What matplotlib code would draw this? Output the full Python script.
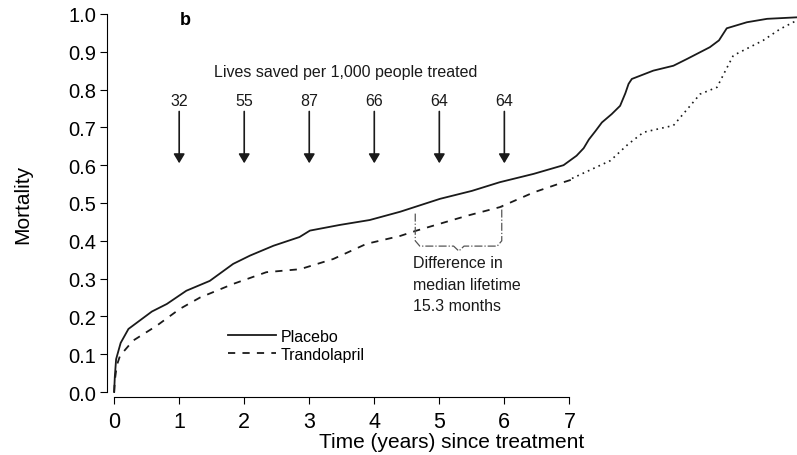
import matplotlib
matplotlib.use("Agg")
import matplotlib.pyplot as plt

plt.rcParams['font.family'] = ['Liberation Sans', 'DejaVu Sans']

# Kaplan-Meier style curves
placebo_t = [0.0, 0.01, 0.03, 0.1, 0.22, 0.4, 0.58, 0.81, 1.11, 1.47, 1.83, 2.09, 2.45,
             2.85, 3.01, 3.47, 3.93, 4.40, 5.01, 5.5, 5.93, 6.45, 6.91, 7.11, 7.22,
             7.30, 7.40, 7.50, 7.65, 7.78, 7.86, 7.91, 7.96, 8.29, 8.60, 8.81, 9.16,
             9.30, 9.42, 9.73, 10.04, 10.5]
placebo_m = [0.0, 0.04, 0.087, 0.13, 0.167, 0.19, 0.213, 0.233, 0.268, 0.294, 0.339,
             0.361, 0.387, 0.41, 0.427, 0.442, 0.455, 0.477, 0.511, 0.532, 0.555,
             0.577, 0.60, 0.625, 0.645, 0.668, 0.69, 0.713, 0.735, 0.757, 0.79,
             0.815, 0.828, 0.85, 0.863, 0.881, 0.912, 0.93, 0.962, 0.978, 0.987, 0.991]

trando_t = [0.0, 0.01, 0.04, 0.09, 0.29, 0.65, 1.01, 1.32, 1.83, 2.34, 2.86, 3.37,
            3.88, 4.40, 4.65, 5.42, 5.93, 6.45, 6.91, 7.04]
trando_m = [0.0, 0.03, 0.07, 0.096, 0.136, 0.175, 0.22, 0.25, 0.286, 0.317, 0.325,
            0.352, 0.392, 0.413, 0.427, 0.466, 0.489, 0.528, 0.555, 0.562]

# projected part (dotted)
proj_t = [7.04, 7.63, 7.90, 8.14, 8.60, 9.01, 9.27, 9.40, 9.52, 9.98, 10.24, 10.5]
proj_m = [0.565, 0.612, 0.655, 0.687, 0.705, 0.788, 0.806, 0.85, 0.89, 0.93, 0.96, 0.983]

arrow_years = [1, 2, 3, 4, 5, 6]
lives_saved = [32, 55, 87, 66, 64, 64]

fig = plt.figure(figsize=(7.97, 4.56), dpi=100)
ax = fig.add_axes([107 / 797, 58 / 456, 690 / 797, 388 / 456])

ax.plot(placebo_t, placebo_m, color='#1a1a1a', lw=1.3, label='Placebo')
ax.plot(trando_t, trando_m, color='#1a1a1a', lw=1.3, ls=(0, (4, 4)), label='Trandolapril')
ax.plot(proj_t, proj_m, color='#1a1a1a', lw=1.2, ls=(0, (1, 2.5)))

# arrows with lives saved
for yr, n in zip(arrow_years, lives_saved):
    ax.annotate('', xy=(yr, 0.605), xytext=(yr, 0.742),
                arrowprops=dict(arrowstyle='-|>,head_length=0.55,head_width=0.33',
                                color='#1a1a1a', lw=1.2, shrinkA=0, shrinkB=0))
    ax.text(yr, 0.772, str(n), ha='center', va='center', fontsize=11.5, color='#1a1a1a')
ax.text(3.56, 0.849, 'Lives saved per 1,000 people treated', ha='center', va='center',
        fontsize=11.5, color='#1a1a1a')
ax.text(1.1, 0.985, 'b', ha='center', va='center', fontsize=13, fontweight='bold')

# bracket for median lifetime difference
bx = [4.63, 4.63, 4.70, 5.22, 5.30, 5.38, 5.89, 5.96, 5.96]
by = [0.472, 0.40, 0.386, 0.386, 0.373, 0.386, 0.386, 0.40, 0.49]
ax.plot(bx, by, color='#555555', lw=0.9, ls='-.')
ax.text(4.59, 0.362, 'Difference in\nmedian lifetime\n15.3 months', ha='left', va='top',
        fontsize=11.5, color='#1a1a1a', linespacing=1.55)

ax.legend(loc='lower left', bbox_to_anchor=(0.164, 0.07), frameon=False, fontsize=11.5,
          handlelength=3.0, handletextpad=0.3, labelspacing=0.2, borderpad=0)

ax.set_xlim(-0.11, 10.5)
ax.set_ylim(-0.013, 1.013)
ax.set_xticks(range(0, 8))
ax.set_yticks([i / 10 for i in range(11)])
ax.set_yticklabels([f'{i / 10:.1f}' for i in range(11)])
ax.spines['top'].set_visible(False)
ax.spines['right'].set_visible(False)
ax.spines['left'].set_bounds(0, 1)
ax.spines['bottom'].set_bounds(0, 7)
ax.tick_params(axis='y', labelsize=14.5, length=5, width=0.8, pad=3)
ax.tick_params(axis='x', labelsize=15.5, length=5, width=0.8, pad=5)
ax.set_xlabel('Time (years) since treatment', fontsize=15, labelpad=0)
ax.set_ylabel('Mortality', fontsize=15, labelpad=26)

fig.savefig('out.png', dpi=100)
